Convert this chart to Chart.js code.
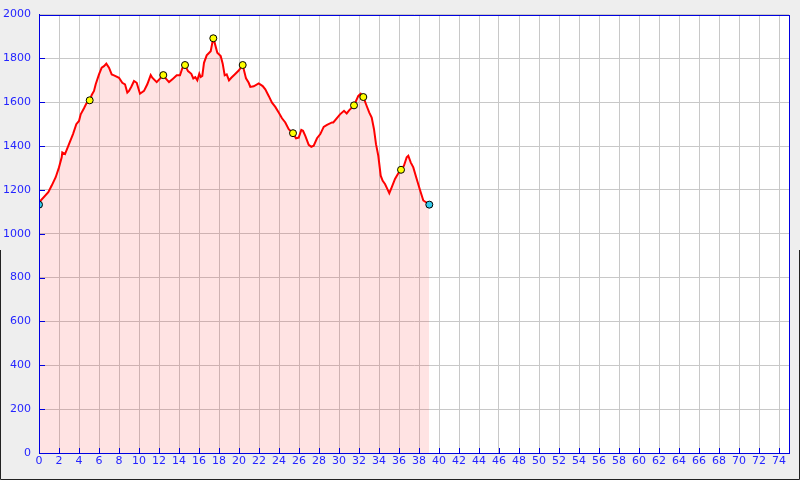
<!DOCTYPE html>
<html>
<head>
<meta charset="utf-8">
<script src="https://cdn.jsdelivr.net/npm/chart.js@4"></script>
<style>
  html, body { margin: 0; padding: 0; background: #eeeeee; }
  #wrap { width: 800px; height: 480px; position: relative; }
</style>
</head>
<body>
<div id="wrap"><canvas id="chart" width="800" height="480"></canvas></div>
<script>
// elevation profile, distance in km / altitude in m
const distKm = [0, 0.17, 0.93, 1.27, 1.67, 2.0, 2.27, 2.33, 2.6, 2.87, 3.0, 3.2, 3.4, 3.73, 4.0, 4.17, 4.5, 4.73, 5.07, 5.27, 5.5, 5.67, 6.0, 6.27, 6.5, 6.73, 7.0, 7.27, 7.5, 8.0, 8.33, 8.6, 8.83, 9.0, 9.23, 9.5,
  9.77, 10.1, 10.5, 10.83, 11.17, 11.33, 11.77, 12.43, 12.67, 13.0, 13.43, 13.77, 14.1, 14.33, 14.6, 14.9, 15.23, 15.43, 15.63, 15.83, 16.03, 16.17, 16.33, 16.5, 16.77, 17.17, 17.33, 17.43, 17.57, 17.83, 18.17, 18.37, 18.57, 18.77, 19.0, 19.23,
  19.57, 19.97, 20.37, 20.7, 20.97, 21.13, 21.47, 21.97, 22.37, 22.63, 22.97, 23.3, 23.63, 23.97, 24.3, 24.63, 24.97, 25.4, 25.7, 25.97, 26.23, 26.4, 26.63, 26.97, 27.23, 27.47, 27.8, 28.13, 28.47, 28.8, 29.3,
  29.43, 30.1, 30.5, 30.77, 31.03, 31.5, 31.93, 32.17, 32.43, 32.77, 33.03, 33.27, 33.5, 33.7, 33.93, 34.17, 34.37, 34.6, 34.83, 35.03, 35.27, 35.6, 35.93, 36.2, 36.5, 36.77, 36.93, 37.17, 37.43, 37.77, 38.1, 38.43, 38.7, 39.03];
const elevM = [1133, 1152, 1190, 1220, 1258, 1303, 1349, 1371, 1364, 1394, 1409, 1432, 1455, 1500, 1515, 1545, 1573, 1594, 1609, 1633, 1652, 1682, 1727, 1758, 1765, 1776, 1758, 1727, 1723, 1712, 1689, 1682, 1644, 1652, 1671, 1697,
  1689, 1639, 1652, 1682, 1724, 1712, 1692, 1724, 1709, 1692, 1709, 1723, 1723, 1755, 1770, 1742, 1730, 1709, 1715, 1700, 1730, 1715, 1720, 1780, 1814, 1833, 1871, 1892, 1871, 1826, 1811, 1776, 1723, 1727, 1700, 1712,
  1727, 1745, 1770, 1709, 1689, 1670, 1673, 1686, 1674, 1659, 1629, 1598, 1579, 1553, 1527, 1508, 1477, 1459, 1436, 1439, 1474, 1470, 1447, 1406, 1397, 1402, 1436, 1455, 1488, 1497, 1508,
  1508, 1545, 1561, 1549, 1564, 1586, 1629, 1639, 1624, 1583, 1553, 1530, 1477, 1409, 1356, 1265, 1242, 1227, 1205, 1185, 1212, 1250, 1276, 1292, 1311, 1349, 1356, 1326, 1303, 1250, 1200, 1152, 1144, 1133];

// waypoints
const wayKm = [5.07, 12.43, 14.6, 17.43, 20.37, 25.4, 31.5, 32.43, 36.2];
const wayM = [1609, 1724, 1770, 1892, 1770, 1459, 1586, 1624, 1292];
// start / finish
const endKm = [0, 39.03];
const endM = [1133, 1133];

const xTicks = [0, 2, 4, 6, 8, 10, 12, 14, 16, 18, 20, 22, 24, 26, 28, 30, 32, 34, 36, 38, 40, 42, 44, 46, 48, 50, 52, 54, 56, 58, 60, 62, 64, 66, 68, 70, 72, 74];
const yTicks = [0, 200, 400, 600, 800, 1000, 1200, 1400, 1600, 1800, 2000];

const blue = '#2424ff';
const axisBlue = '#0000e0';

const pairs = (xs, ys) => xs.map((x, i) => ({ x: x, y: ys[i] }));

const frame = {
  id: 'frame',
  beforeDraw(chart) {
    const c = chart.ctx;
    c.save();
    c.fillStyle = '#eeeeee';
    c.fillRect(0, 0, chart.width, chart.height);
    const a = chart.chartArea;
    c.fillStyle = '#ffffff';
    c.fillRect(a.left, a.top, a.right - a.left, a.bottom - a.top);
    c.strokeStyle = '#222';
    c.lineWidth = 1;
    c.beginPath();
    c.moveTo(0.5, 250);
    c.lineTo(0.5, chart.height - 0.5);
    c.lineTo(chart.width - 0.5, chart.height - 0.5);
    c.lineTo(chart.width - 0.5, 250);
    c.stroke();
    c.restore();
  },
  afterDraw(chart) {
    const c = chart.ctx;
    const a = chart.chartArea;
    const xs = chart.scales.x, ys = chart.scales.y;
    c.save();
    c.strokeStyle = axisBlue;
    c.lineWidth = 1;
    c.beginPath();
    xs.ticks.forEach(t => {
      const px = Math.round(xs.getPixelForValue(t.value)) + 0.5;
      c.moveTo(px, a.bottom);
      c.lineTo(px, a.bottom - 5);
    });
    ys.ticks.forEach(t => {
      const py = Math.round(ys.getPixelForValue(t.value)) + 0.5;
      c.moveTo(a.left, py);
      c.lineTo(a.left + 6, py);
    });
    c.stroke();
    c.strokeRect(Math.round(a.left) + 0.5, Math.round(a.top) + 0.5, Math.round(a.right - a.left), Math.round(a.bottom - a.top));
    c.restore();
  }
};

new Chart(document.getElementById('chart'), {
  type: 'scatter',
  data: {
    datasets: [
      {
        data: pairs(endKm, endM),
        showLine: false,
        pointRadius: 3.5,
        pointBackgroundColor: '#33ccee',
        pointBorderColor: '#000',
        pointBorderWidth: 1
      },
      {
        data: pairs(wayKm, wayM),
        showLine: false,
        pointRadius: 3.5,
        pointBackgroundColor: '#ffff00',
        pointBorderColor: '#000',
        pointBorderWidth: 1
      },
      {
        data: pairs(distKm, elevM),
        showLine: true,
        borderColor: '#ff0000',
        borderWidth: 2,
        pointRadius: 0,
        tension: 0,
        fill: 'origin',
        backgroundColor: 'rgba(255, 0, 0, 0.11)'
      }
    ]
  },
  plugins: [frame],
  options: {
    responsive: false,
    animation: false,
    layout: { padding: { left: 0, top: 13, right: 11, bottom: 0 } },
    plugins: { legend: { display: false }, tooltip: { enabled: false } },
    scales: {
      x: {
        type: 'linear',
        min: 0,
        max: 75,
        afterBuildTicks: s => { s.ticks = xTicks.map(v => ({ value: v })); },
        afterFit: s => { s.height = 27; },
        ticks: { color: blue, padding: 2, maxRotation: 0, autoSkip: false, callback: v => String(v), font: { family: 'DejaVu Sans', size: 11 } },
        grid: { color: '#c8c8c8', drawTicks: false },
        border: { color: axisBlue }
      },
      y: {
        min: 0,
        max: 2000,
        afterBuildTicks: s => { s.ticks = yTicks.map(v => ({ value: v })); },
        afterFit: s => { s.width = 39; },
        ticks: { color: blue, padding: 8, callback: v => String(v), font: { family: 'DejaVu Sans', size: 11 } },
        grid: { color: '#c8c8c8', drawTicks: false },
        border: { color: axisBlue }
      }
    }
  }
});
</script>
</body>
</html>
